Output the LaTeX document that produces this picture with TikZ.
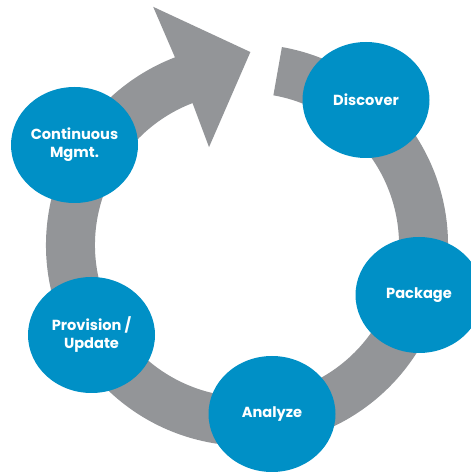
\documentclass[tikz,border=0pt]{standalone}
\usepackage{fontspec}
\setmainfont{Poppins}
\usetikzlibrary{shapes.geometric}
\usetikzlibrary{calc}
\definecolor{ringgray}{RGB}{147,149,152}
\definecolor{stepblue}{RGB}{0,144,198}

\begin{document}
\begin{tikzpicture}[x=1pt,y=1pt,
		stage/.style={ellipse,fill=stepblue,text=white,font=\bfseries\fontsize{14.6}{18}\selectfont,
			align=center,minimum width=127pt,minimum height=116pt,inner sep=0pt}]
		\useasboundingbox (0,0) rectangle (471,472);
		\coordinate (c) at (247,227);
		% ring with arrow head
		\fill[ringgray] ($(c)+(80:201)$) arc[start angle=80,end angle=-249,radius=201]
			-- ($(c)+(111.5:256)$) -- ($(c)+(89:193)$) -- ($(c)+(111.2:105)$)
			-- ($(c)+(111:152)$) arc[start angle=111,end angle=440,radius=152] -- cycle;
		% stages
		\node[stage] (discover) at (366,372) {Discover};
		\node[stage] (package) at (419,177) {Package};
		\node[stage] (analyze) at (272,58) {Analyze};
		\node[stage] (provision) at (91.5,137) {Provision /\\Update};
		\node[stage] (mgmt) at (74.5,327) {Continuous\\Mgmt.};
	\end{tikzpicture}
\end{document}
